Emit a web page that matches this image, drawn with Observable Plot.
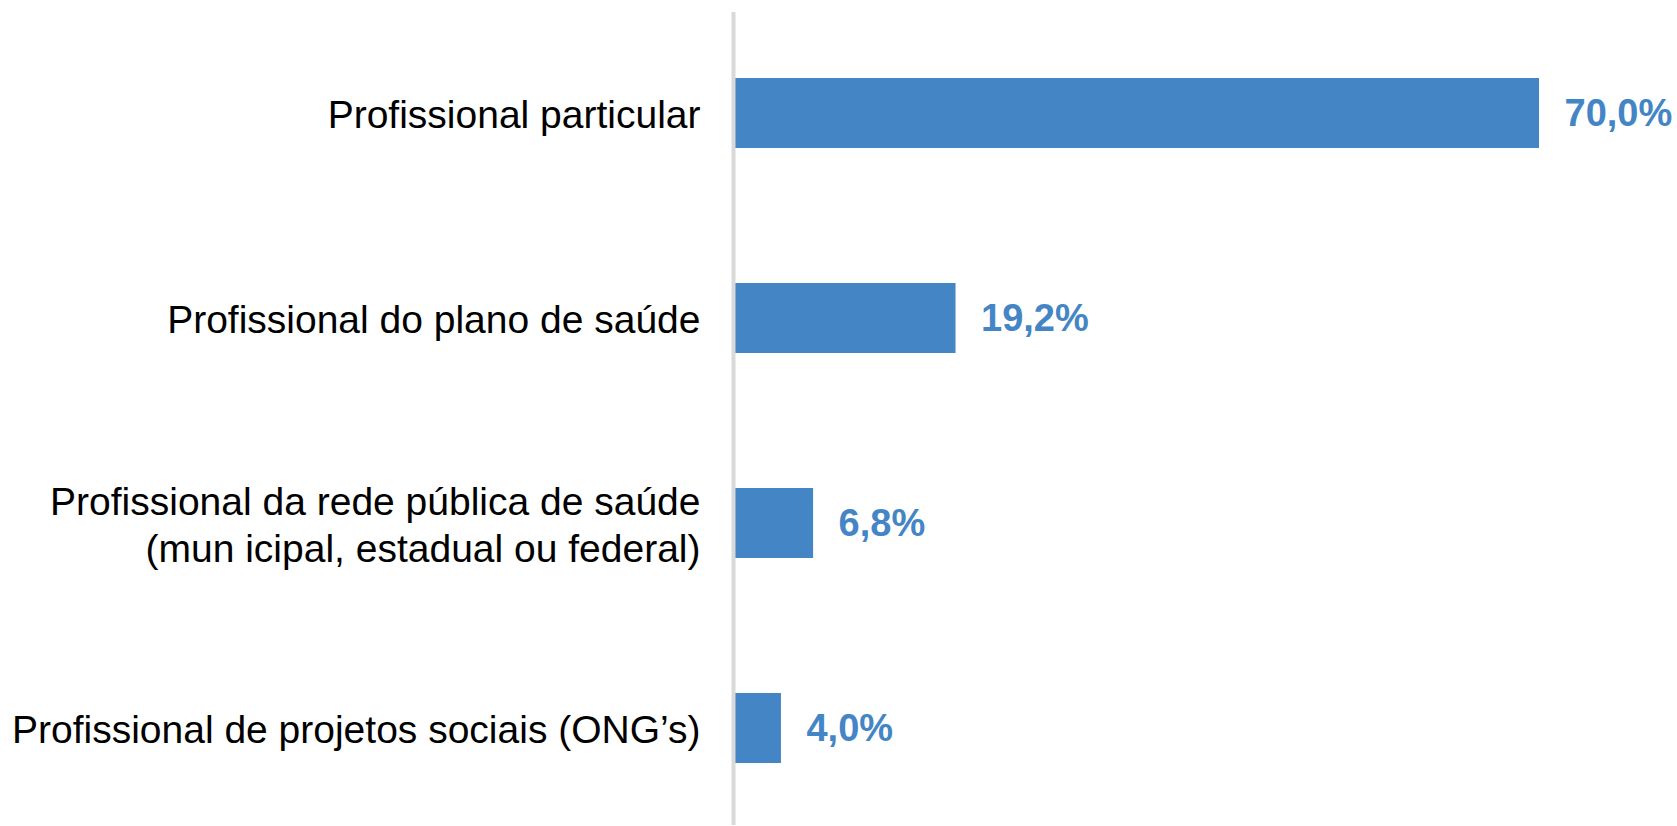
<!DOCTYPE html>
<html>
<head>
<meta charset="utf-8">
<script src="https://cdn.jsdelivr.net/npm/d3@7"></script>
<script src="https://cdn.jsdelivr.net/npm/@observablehq/plot@0.6"></script>
<style>
  html, body { margin: 0; padding: 0; background: #fff; }
  svg { display: block; }
</style>
</head>
<body>
<div id="chart"></div>
<script>
const categories = [
  "Profissional particular",
  "Profissional do plano de saúde",
  "Profissional da rede pública de saúde\n(mun icipal, estadual ou federal)",
  "Profissional de projetos sociais (ONG’s)"
];
const values = [70.0, 19.2, 6.8, 4.0];

const data = categories.map((c, i) => ({category: c, value: values[i]}));
const fmt = v => v.toFixed(1).replace(".", ",") + "%";
const barColor = "#4485c5";

const chart = Plot.plot({
  width: 1677,
  height: 826,
  marginTop: 12,
  marginBottom: 1,
  marginLeft: 735,
  marginRight: 138,
  style: {fontFamily: "'Liberation Sans', Arial, sans-serif", background: "#fff"},
  x: {domain: [0, 70], range: [735, 1539], axis: null},
  y: {domain: categories, range: [10, 830], paddingInner: 0.66, paddingOuter: 0.33, axis: null},
  marks: [
    Plot.barX(data, {x: "value", y: "category", fill: barColor}),
    Plot.ruleX([0], {stroke: "#d9d9d9", strokeWidth: 4, dx: -2}),
    Plot.text(data, {
      x: 0, y: "category", text: "category",
      textAnchor: "end", dx: -35, fontSize: 39, lineHeight: 1.2, fill: "#000"
    }),
    Plot.text(data, {
      x: "value", y: "category", text: d => fmt(d.value),
      textAnchor: "start", dx: 25, fontSize: 38, fontWeight: "bold", fill: barColor
    })
  ]
});
document.getElementById("chart").appendChild(chart);
</script>
</body>
</html>
